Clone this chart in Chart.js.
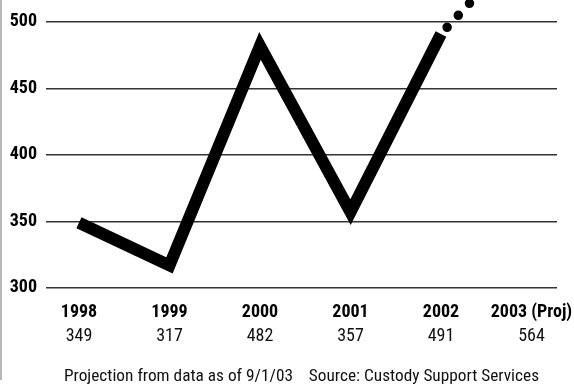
<!DOCTYPE html>
<html>
<head>
<meta charset="utf-8">
<script src="https://cdn.jsdelivr.net/npm/chart.js@4/dist/chart.umd.min.js"></script>
<style>
  html, body { margin: 0; padding: 0; background: #fff; }
  #wrap { position: relative; width: 574px; height: 387px; }
  #edge { position: absolute; left: 0; top: 0; width: 2px; height: 380px; background: #b8b8b8; }
  canvas { display: block; }
</style>
</head>
<body>
<div id="wrap">
  <canvas id="c" width="574" height="387"></canvas>
  <div id="edge"></div>
</div>
<script>
// Yearly counts; the last year is a projection
const years = ['1998', '1999', '2000', '2001', '2002', '2003 (Proj)'];
const counts = [349, 317, 482, 357, 491, 564];
const actualYears = 5;               // 1998–2002 are actual figures
const yTicks = [300, 350, 400, 450, 500];
const footnote = 'Projection from data as of 9/1/03    Source: Custody Support Services';

const FAMILY = "'Roboto Condensed', 'Open Sans Condensed', 'DejaVu Sans Condensed', sans-serif";

const toPoints = (vals, start) => vals.map((v, i) => ({ x: start + i, y: v }));

// keep the plot area fixed: no extra room reserved for overhanging labels
const noPad = s => { s.paddingLeft = 0; s.paddingRight = 0; s.paddingTop = 0; s.paddingBottom = 0; };

const xRange = { min: -0.3646, max: 5.282 };

new Chart(document.getElementById('c'), {
  type: 'line',
  data: {
    datasets: [
      {
        // actual years: heavy solid line
        data: toPoints(counts.slice(0, actualYears), 0),
        borderColor: '#000',
        borderWidth: 12,
        borderJoinStyle: 'miter',
        borderCapStyle: 'butt',
        pointRadius: 0,
        tension: 0,
        fill: false,
        clip: false
      },
      {
        // projection: row of round dots
        data: toPoints(counts.slice(actualYears - 1), actualYears - 1),
        borderColor: '#000',
        borderWidth: 9.5,
        borderCapStyle: 'round',
        borderDash: [0, 16.4],
        borderDashOffset: 7.4,
        pointRadius: 0,
        tension: 0,
        fill: false,
        clip: false
      }
    ]
  },
  options: {
    responsive: false,
    animation: false,
    events: [],
    layout: { autoPadding: false, padding: { left: 0, right: 17, top: 0, bottom: 0 } },
    scales: {
      x: {
        type: 'linear',
        position: 'bottom',
        weight: 0,
        min: xRange.min,
        max: xRange.max,
        afterBuildTicks: s => { s.ticks = years.map((_, i) => ({ value: i })); },
        afterFit: s => { s.height = 36; noPad(s); },
        grid: { display: false, drawTicks: false },
        border: { display: false },
        ticks: {
          autoSkip: false, maxRotation: 0, minRotation: 0,
          padding: 14,
          color: '#000',
          font: { family: FAMILY, size: 18, weight: 'bold' },
          callback: v => years[v]
        }
      },
      x2: {
        type: 'linear',
        axis: 'x',
        position: 'bottom',
        weight: 1,
        min: xRange.min,
        max: xRange.max,
        afterBuildTicks: s => { s.ticks = counts.map((_, i) => ({ value: i })); },
        afterFit: s => { s.height = 41.4; noPad(s); },
        grid: { display: false, drawTicks: false },
        border: { display: false },
        ticks: {
          autoSkip: false, maxRotation: 0, minRotation: 0,
          padding: 2,
          color: '#111',
          font: { family: FAMILY, size: 18, weight: 'normal' },
          callback: v => String(counts[v])
        }
      },
      y: {
        type: 'linear',
        position: 'left',
        min: 300,
        max: 516.5,
        afterBuildTicks: s => { s.ticks = yTicks.map(v => ({ value: v })); },
        afterFit: s => { s.width = 46; noPad(s); },
        grid: { color: '#333', lineWidth: 1.5, drawTicks: false },
        border: { display: false },
        ticks: {
          padding: 9,
          color: '#000',
          font: { family: FAMILY, size: 18, weight: 'bold' }
        }
      }
    },
    plugins: {
      legend: { display: false },
      tooltip: { enabled: false },
      title: {
        display: true,
        position: 'bottom',
        fullSize: false,
        text: footnote,
        color: '#111',
        font: { family: FAMILY, size: 17.3, weight: 'normal', lineHeight: 1.25 },
        padding: { top: 0, bottom: 0 }
      }
    }
  }
});
</script>
</body>
</html>
